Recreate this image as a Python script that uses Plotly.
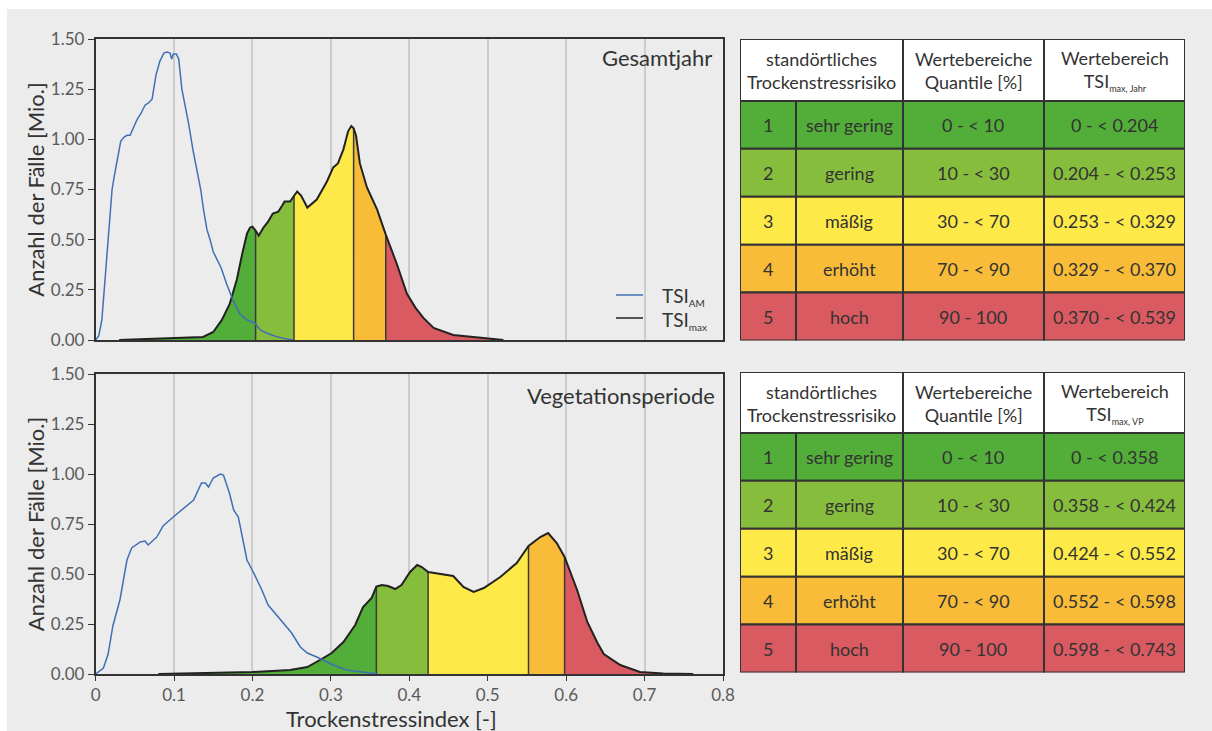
import plotly.graph_objects as go

# ---------------------------------------------------------------- data
# Gesamtjahr: TSI_AM distribution (Mio. cases)
am_year_x = [0.000, 0.004, 0.008, 0.012, 0.015, 0.018, 0.021, 0.024, 0.028, 0.032,
             0.036, 0.040, 0.044, 0.048, 0.053, 0.058, 0.063, 0.067, 0.072, 0.077,
             0.082, 0.087, 0.091, 0.095, 0.097, 0.099, 0.103, 0.106, 0.110, 0.114,
             0.119, 0.124, 0.129, 0.134, 0.138, 0.142, 0.146, 0.150, 0.155, 0.160,
             0.167, 0.175, 0.184, 0.193, 0.203, 0.210, 0.218, 0.228, 0.240, 0.252]
am_year_y = [0.00, 0.02, 0.10, 0.30, 0.45, 0.62, 0.75, 0.82, 0.90, 0.99,
             1.01, 1.02, 1.02, 1.06, 1.10, 1.13, 1.17, 1.18, 1.20, 1.32,
             1.39, 1.43, 1.435, 1.43, 1.40, 1.425, 1.425, 1.40, 1.25, 1.17,
             1.07, 0.95, 0.85, 0.75, 0.64, 0.55, 0.50, 0.44, 0.40, 0.36,
             0.28, 0.20, 0.13, 0.10, 0.085, 0.05, 0.035, 0.02, 0.008, 0.00]

# Gesamtjahr: TSI_max distribution
max_year_x = [0.030, 0.060, 0.090, 0.110, 0.137, 0.150, 0.161, 0.171, 0.180, 0.187,
              0.193, 0.197, 0.200, 0.204, 0.208, 0.214, 0.220, 0.226, 0.233, 0.238,
              0.241, 0.248, 0.253, 0.257, 0.262, 0.270, 0.282, 0.295, 0.303, 0.309,
              0.316, 0.322, 0.326, 0.329, 0.332, 0.337, 0.346, 0.359, 0.370, 0.384,
              0.397, 0.408, 0.418, 0.431, 0.456, 0.490, 0.520]
max_year_y = [0.000, 0.004, 0.008, 0.010, 0.015, 0.04, 0.10, 0.18, 0.30, 0.43,
              0.53, 0.56, 0.565, 0.545, 0.52, 0.56, 0.59, 0.63, 0.64, 0.67,
              0.69, 0.69, 0.72, 0.74, 0.72, 0.66, 0.70, 0.79, 0.86, 0.88,
              0.95, 1.04, 1.066, 1.055, 1.02, 0.88, 0.76, 0.65, 0.525, 0.38,
              0.23, 0.16, 0.11, 0.06, 0.025, 0.010, 0.000]

# Vegetationsperiode: TSI_AM distribution
am_vp_x = [0.000, 0.010, 0.016, 0.022, 0.031, 0.040, 0.046, 0.057, 0.063, 0.067,
           0.078, 0.086, 0.099, 0.112, 0.125, 0.135, 0.140, 0.144, 0.150, 0.159,
           0.163, 0.171, 0.176, 0.182, 0.193, 0.201, 0.212, 0.220, 0.231, 0.239,
           0.250, 0.261, 0.270, 0.282, 0.295, 0.303, 0.320, 0.346, 0.360]
am_vp_y = [0.00, 0.03, 0.10, 0.24, 0.37, 0.57, 0.63, 0.66, 0.665, 0.645,
           0.685, 0.74, 0.785, 0.83, 0.87, 0.955, 0.955, 0.935, 0.98, 1.00,
           0.995, 0.90, 0.82, 0.785, 0.57, 0.51, 0.42, 0.345, 0.295, 0.255,
           0.205, 0.135, 0.105, 0.085, 0.06, 0.045, 0.02, 0.005, 0.00]

# Vegetationsperiode: TSI_max distribution
max_vp_x = [0.080, 0.150, 0.200, 0.248, 0.270, 0.286, 0.301, 0.316, 0.331, 0.341,
            0.352, 0.358, 0.365, 0.373, 0.382, 0.390, 0.401, 0.410, 0.416, 0.424,
            0.439, 0.456, 0.469, 0.482, 0.495, 0.516, 0.537, 0.552, 0.567, 0.577,
            0.588, 0.598, 0.614, 0.627, 0.640, 0.648, 0.669, 0.694, 0.724, 0.762]
max_vp_y = [0.000, 0.005, 0.010, 0.020, 0.035, 0.07, 0.105, 0.16, 0.245, 0.335,
            0.38, 0.437, 0.445, 0.44, 0.425, 0.445, 0.51, 0.545, 0.535, 0.51,
            0.50, 0.49, 0.435, 0.41, 0.43, 0.485, 0.555, 0.64, 0.685, 0.705,
            0.655, 0.585, 0.42, 0.26, 0.155, 0.10, 0.045, 0.010, 0.003, 0.000]

# class limits (TSI_max quantile thresholds)
limits_year = [0.204, 0.253, 0.329, 0.370]
limits_vp = [0.358, 0.424, 0.552, 0.598]

# table contents
class_no = ["1", "2", "3", "4", "5"]
class_name = ["sehr gering", "gering", "mäßig", "erhöht", "hoch"]
quantile_range = ["0 - < 10", "10 - < 30", "30 - < 70", "70 - < 90", "90 - 100"]
tsi_range_year = ["0 - < 0.204", "0.204 - < 0.253", "0.253 - < 0.329",
                  "0.329 - < 0.370", "0.370 - < 0.539"]
tsi_range_vp = ["0 - < 0.358", "0.358 - < 0.424", "0.424 - < 0.552",
                "0.552 - < 0.598", "0.598 - < 0.743"]

x_ticks = [0, 0.1, 0.2, 0.3, 0.4, 0.5, 0.6, 0.7, 0.8]
x_tick_text = ["0", "0.1", "0.2", "0.3", "0.4", "0.5", "0.6", "0.7", "0.8"]
y_ticks = [0, 0.25, 0.5, 0.75, 1.0, 1.25, 1.5]

# ---------------------------------------------------------------- style
W, H = 1212, 731
FONT = "Lato"
TXT = "#333333"
TICK = "#5a5a5a"
FRAME = "#333333"
GRID = "#cccccc"
BLUE = "#416fb6"
CLASS_COLORS = ["#52ad39", "#87bd3d", "#fdea48", "#f8bc38", "#d95a60"]
BG = "#ebeceb"


def px(p):
    return p / W


def py(p):
    return 1 - p / H


fig = go.Figure()


def add_panel(xa, ya, am_x, am_y, mx_x, mx_y, limits):
    edges = [mx_x[0]] + limits + [mx_x[-1]]
    # coloured risk classes under the TSI_max curve
    for k in range(5):
        lo, hi = edges[k], edges[k + 1]
        sx = [x for x in mx_x if lo <= x <= hi]
        sy = [y for x, y in zip(mx_x, mx_y) if lo <= x <= hi]
        fig.add_trace(go.Scatter(x=sx, y=sy, xaxis=xa, yaxis=ya, mode="lines",
                                 line=dict(width=0), fill="tozeroy",
                                 fillcolor=CLASS_COLORS[k], hoverinfo="skip"))
    # class boundaries
    for b in limits:
        yb = mx_y[mx_x.index(b)]
        fig.add_trace(go.Scatter(x=[b, b], y=[0, yb], xaxis=xa, yaxis=ya,
                                 mode="lines", line=dict(color="#3a3a3a", width=1.5),
                                 hoverinfo="skip"))
    fig.add_trace(go.Scatter(x=mx_x, y=mx_y, xaxis=xa, yaxis=ya, mode="lines",
                             line=dict(color="#222222", width=2), name="TSI max"))
    fig.add_trace(go.Scatter(x=am_x, y=am_y, xaxis=xa, yaxis=ya, mode="lines",
                             line=dict(color=BLUE, width=1.5), name="TSI AM"))


add_panel("x", "y", am_year_x, am_year_y, max_year_x, max_year_y, limits_year)
add_panel("x2", "y2", am_vp_x, am_vp_y, max_vp_x, max_vp_y, limits_vp)

x_dom = [px(95.6), px(723)]
axis_common = dict(range=[0, 0.8], showgrid=True, gridcolor=GRID, gridwidth=1.5,
                   showline=True, linecolor=FRAME, linewidth=1.5, mirror=True,
                   zeroline=False, tickvals=x_ticks, ticktext=x_tick_text,
                   automargin=False,
                   tickfont=dict(family=FONT, size=17, color=TICK))
yaxis_common = dict(range=[0, 1.5], showgrid=False, showline=True, linecolor=FRAME,
                    linewidth=1.5, mirror=True, zeroline=False, tickvals=y_ticks,
                    tickformat=".2f", ticks="outside", ticklen=6, tickcolor=FRAME,
                    automargin=False,
                    tickfont=dict(family=FONT, size=17, color=TICK),
                    title=dict(text="Anzahl der Fälle [Mio.]", standoff=0,
                               font=dict(family=FONT, size=22, color=TXT)))

fig.update_layout(
    xaxis=dict(domain=x_dom, anchor="y", showticklabels=False, ticks="", **axis_common),
    yaxis=dict(domain=[py(340), py(39)], anchor="x", **yaxis_common),
    xaxis2=dict(domain=x_dom, anchor="y2", ticks="outside", ticklen=5, tickcolor=FRAME,
                **axis_common),
    yaxis2=dict(domain=[py(674), py(374)], anchor="x2", **yaxis_common),
)

# ---------------------------------------------------------------- tables
COL_W = [56, 107, 141, 141]
COL_E = [0]
for w in COL_W:
    COL_E.append(COL_E[-1] + w)
ROW_H = 48
LINE = dict(color="#333333", width=2)
shapes = []
annotations = []


def add_table(xa, ya, header_h, tsi_sub, tsi_values, top, bottom):
    total = header_h + 5 * ROW_H
    fig.update_layout({
        xa.replace("x", "xaxis"): dict(domain=[px(740), px(1185)], range=[0, COL_E[-1]],
                                       visible=False, fixedrange=True, automargin=False),
        ya.replace("y", "yaxis"): dict(domain=[py(bottom), py(top)], range=[total, 0],
                                       visible=False, fixedrange=True, automargin=False),
    })
    # header cells (risk class header spans two columns)
    for x0, x1 in [(COL_E[0], COL_E[2]), (COL_E[2], COL_E[3]), (COL_E[3], COL_E[4])]:
        shapes.append(dict(type="rect", xref=xa, yref=ya, x0=x0, x1=x1, y0=0,
                           y1=header_h, fillcolor="white", line=LINE))
    headers = [
        ((COL_E[0] + COL_E[2]) / 2, "standörtliches<br>Trockenstressrisiko"),
        ((COL_E[2] + COL_E[3]) / 2, "Wertebereiche<br>Quantile [%]"),
        ((COL_E[3] + COL_E[4]) / 2,
         "Wertebereich<br>TSI<sub><span style='font-size:9px'>" + tsi_sub + "</span></sub>"),
    ]
    for cx, t in headers:
        annotations.append(dict(xref=xa, yref=ya, x=cx, y=header_h / 2 + 1, text=t,
                                showarrow=False, xanchor="center", yanchor="middle",
                                font=dict(family=FONT, size=18, color=TXT)))
    # body rows
    for r in range(5):
        y0 = header_h + r * ROW_H
        y1 = y0 + ROW_H
        cols = [class_no[r], class_name[r], quantile_range[r], tsi_values[r]]
        for c in range(4):
            shapes.append(dict(type="rect", xref=xa, yref=ya, x0=COL_E[c], x1=COL_E[c + 1],
                               y0=y0, y1=y1, fillcolor=CLASS_COLORS[r], line=LINE))
            annotations.append(dict(xref=xa, yref=ya, x=(COL_E[c] + COL_E[c + 1]) / 2,
                                    y=(y0 + y1) / 2, text=cols[c], showarrow=False,
                                    xanchor="center", yanchor="middle",
                                    font=dict(family=FONT, size=18, color=TXT)))


add_table("x3", "y3", 62, "max, Jahr", tsi_range_year, 39, 340.5)
add_table("x4", "y4", 61, "max, VP", tsi_range_vp, 372, 672.5)

# panel labels and x-axis caption
annotations.append(dict(xref="paper", yref="paper", x=px(714), y=py(58), text="Gesamtjahr",
                        showarrow=False, xanchor="right", yanchor="middle",
                        font=dict(family=FONT, size=22, color=TXT)))
annotations.append(dict(xref="paper", yref="paper", x=px(717), y=py(395),
                        text="Vegetationsperiode", showarrow=False, xanchor="right",
                        yanchor="middle", font=dict(family=FONT, size=22, color=TXT)))
annotations.append(dict(xref="paper", yref="paper", x=px(391), y=py(718),
                        text="Trockenstressindex [-]", showarrow=False, xanchor="center",
                        yanchor="middle", font=dict(family=FONT, size=22, color=TXT)))

# legend of the upper panel
legend_items = [("TSI<sub><span style='font-size:10px'>AM</span></sub>", BLUE, 295),
                ("TSI<sub><span style='font-size:10px'>max</span></sub>", "#222222", 318)]
for label, color, yy in legend_items:
    shapes.append(dict(type="line", xref="paper", yref="paper", x0=px(616), x1=px(643),
                       y0=py(yy), y1=py(yy), line=dict(color=color, width=1.5)))
    annotations.append(dict(xref="paper", yref="paper", x=px(660), y=py(yy + 2), text=label,
                            showarrow=False, xanchor="left", yanchor="middle",
                            font=dict(family=FONT, size=19, color=TXT)))

# grey backdrop with a thin white rim at the top and left edge
shapes.insert(0, dict(type="rect", xref="paper", yref="paper", x0=px(7), x1=1,
                      y0=0, y1=py(9), fillcolor=BG, line=dict(width=0), layer="below"))

fig.update_layout(
    width=W, height=H, margin=dict(l=0, r=0, t=0, b=0, autoexpand=False),
    paper_bgcolor="white", plot_bgcolor="white",
    font=dict(family=FONT, color=TXT),
    shapes=shapes, annotations=annotations, showlegend=False,
)

fig.write_html("out.html")
